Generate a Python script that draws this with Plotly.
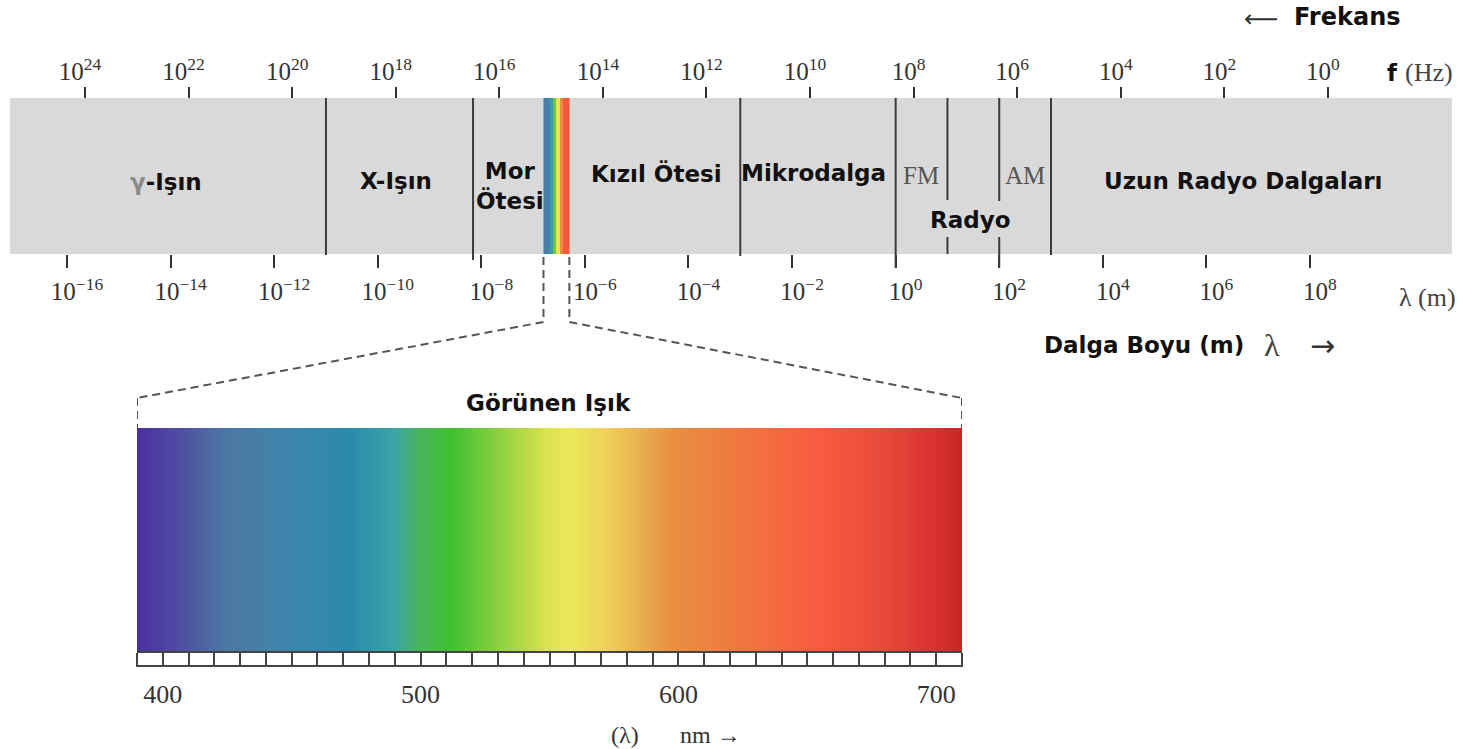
import numpy as np
import plotly.graph_objects as go

# ---------------- data ----------------
# wavelength axis (log10 of metres) tick exponents
lam_tick_exp = [-16, -14, -12, -10, -8, -6, -4, -2, 0, 2, 4, 6, 8]
# frequency axis (log10 of Hz) tick exponents
freq_tick_exp = [24, 22, 20, 18, 16, 14, 12, 10, 8, 6, 4, 2, 0]

# band limits and region boundaries (log10 wavelength, m)
band_lo, band_hi = -17.1, 10.74
region_bounds = [-11.0, -8.16, -3.0, 0.0, 1.0, 2.0, 3.0]
visible_lo, visible_hi = -6.80, -6.30

region_names = ["<span style='color:#8a8a8a'>γ</span>-Işın", "X-Işın", "Mor<br>Ötesi",
                "Kızıl Ötesi", "Mikrodalga", "FM", "Radyo", "AM", "Uzun Radyo Dalgaları"]
region_label_x = [-14.09, -9.65, -7.45, -4.61, -1.58, 0.49, 1.44, 2.50, 6.71]

# visible light (nm)
nm_lo, nm_hi = 390, 710
nm_ticks = list(range(390, 711, 10))
nm_labels = [400, 500, 600, 700]
# small rainbow strip in the band (representative wavelengths, nm)
strip_nm = [430, 445, 485, 522, 562, 600, 660, 665]

# colour stops of the visible spectrum (nm, colour)
spec_nm = [390, 405, 425, 450, 472, 490, 500, 512, 530, 548, 558, 572, 585, 597, 625, 655, 680, 700, 710]
spec_col = ["#4a2f9f", "#4f4aa2", "#4d78a3", "#3d85ab", "#2b8aab", "#3aa5a6", "#4ab45a", "#3fc030",
            "#8ccf40", "#d8e24e", "#ece85a", "#eed058", "#e8b050", "#e89040", "#f07640", "#f95a40",
            "#e84a3a", "#d83030", "#c82525"]

# ---------------- layout helpers ----------------
W, H = 1463, 749
LAM_RANGE = [-17.294, 10.955]
FREQ_RANGE = [25.641, -2.607]
NM_DOMAIN = [137 / W, 962 / W]

def lam_paper(v):
    return (v - LAM_RANGE[0]) / (LAM_RANGE[1] - LAM_RANGE[0])

def nm_paper(v):
    return NM_DOMAIN[0] + (v - nm_lo) / (nm_hi - nm_lo) * (NM_DOMAIN[1] - NM_DOMAIN[0])

def ypaper(py):
    return 1 - py / H

BAND_TOP, BAND_BOT = 98, 254
SPEC_TOP, SPEC_BOT = 428, 652
RULER_BOT = 666

colorscale = [[(n - nm_lo) / (nm_hi - nm_lo), c] for n, c in zip(spec_nm, spec_col)]

fig = go.Figure()

# main gradient of visible light
edges = np.arange(nm_lo, nm_hi + 1, 1)
centers = (edges[:-1] + edges[1:]) / 2
fig.add_trace(go.Heatmap(x=edges, y=[SPEC_TOP, SPEC_BOT], z=[centers], xaxis="x2", yaxis="y",
                         colorscale=colorscale, zmin=nm_lo, zmax=nm_hi, showscale=False,
                         hoverinfo="skip"))

# rainbow strip in the band
strip_edges = np.linspace(visible_lo, visible_hi, len(strip_nm) + 1)
fig.add_trace(go.Heatmap(x=strip_edges, y=[BAND_TOP, BAND_BOT], z=[strip_nm], xaxis="x", yaxis="y",
                         colorscale=colorscale, zmin=nm_lo, zmax=nm_hi, showscale=False,
                         hoverinfo="skip"))

# invisible trace to activate the frequency axis
fig.add_trace(go.Scatter(x=[freq_tick_exp[0]], y=[0], xaxis="x3", yaxis="y", mode="markers",
                         marker=dict(opacity=0), hoverinfo="skip", showlegend=False))

shapes = []
# grey band
shapes.append(dict(type="rect", xref="x", yref="y", x0=band_lo, x1=band_hi, y0=BAND_TOP, y1=BAND_BOT,
                   fillcolor="#d9d9d9", line=dict(width=0), layer="below"))
# dividers (segments in pixel-rows)
div_segments = {
    -11.0: [(BAND_TOP, BAND_BOT + 1)],
    -8.16: [(BAND_TOP, 260)],
    -3.0: [(BAND_TOP, 256)],
    0.0: [(BAND_TOP, 268)],
    1.0: [(BAND_TOP, 200), (237, BAND_BOT)],
    2.0: [(BAND_TOP, 201), (237, 268)],
    3.0: [(BAND_TOP, BAND_BOT + 1)],
}
for b in region_bounds:
    for y0, y1 in div_segments[b]:
        shapes.append(dict(type="line", xref="x", yref="y", x0=b, x1=b, y0=y0, y1=y1,
                           line=dict(color="#3a3a3a", width=2)))

# dashed connectors
dash = dict(color="#555555", width=2, dash="8px,5px")
for lam_v, nm_v in [(visible_lo, nm_lo), (visible_hi, nm_hi)]:
    shapes.append(dict(type="line", xref="x", yref="y", x0=lam_v, x1=lam_v, y0=BAND_BOT + 3, y1=322, line=dash))
    shapes.append(dict(type="line", xref="paper", yref="y", x0=lam_paper(lam_v), x1=nm_paper(nm_v),
                       y0=322, y1=398, line=dash))
    shapes.append(dict(type="line", xref="x2", yref="y", x0=nm_v, x1=nm_v, y0=398, y1=SPEC_TOP, line=dash))

# ruler bottom line
shapes.append(dict(type="line", xref="x2", yref="y", x0=nm_lo, x1=nm_hi, y0=RULER_BOT, y1=RULER_BOT,
                   line=dict(color="#444444", width=2)))

def pow_label(e):
    s = str(e).replace("-", "−")
    return f"10<sup>{s}</sup>"

serif = "Liberation Serif, Times New Roman, serif"
sans_b = "DejaVu Sans"

annotations = []
band_label_y = [182, 181, 186, 173, 173, 175, 220, 175, 181]
for name, xv, yv in zip(region_names, region_label_x, band_label_y):
    if name in ("FM", "AM"):
        font = dict(family=serif, size=25, color="#555555")
    else:
        font = dict(family=sans_b, size=23, color="#111111", weight="bold")
    annotations.append(dict(x=xv, y=yv, xref="x", yref="y", text=name, showarrow=False,
                            xanchor="center", yanchor="middle", font=font))

def add_text(text, px, py, font, xanchor="center"):
    annotations.append(dict(x=px / W, y=ypaper(py), xref="paper", yref="paper", text=text,
                            showarrow=False, xanchor=xanchor, yanchor="middle", font=font))

add_text("⟵", 1261, 19, dict(family="DejaVu Sans", size=24, color="#333"))
add_text("Frekans", 1347, 17, dict(family=sans_b, size=24, color="#111", weight="bold"))
add_text("f", 1392, 73, dict(family=sans_b, size=23, color="#111", weight="bold"))
add_text("(Hz)", 1429, 72, dict(family=serif, size=26, color="#444"))
add_text("λ (m)", 1427, 297, dict(family=serif, size=26, color="#444"))
add_text("Dalga Boyu (m)", 1144, 345, dict(family=sans_b, size=23, color="#111", weight="bold"))
add_text("λ", 1272, 345, dict(family=serif, size=32, color="#444"))
add_text("→", 1322, 345, dict(family="DejaVu Sans", size=30, color="#333"))
add_text("Görünen Işık", 548, 403, dict(family=sans_b, size=23, color="#111", weight="bold"))
add_text("(λ)", 625, 735, dict(family=serif, size=24, color="#333"))
add_text("nm →", 710, 735, dict(family=serif, size=24, color="#333"))

tick_font = dict(family=serif, size=25, color="#333333")

fig.update_layout(
    width=W, height=H, margin=dict(l=0, r=0, t=0, b=0),
    paper_bgcolor="white", plot_bgcolor="rgba(0,0,0,0)", showlegend=False,
    shapes=shapes, annotations=annotations,
    xaxis=dict(range=LAM_RANGE, domain=[0, 1], anchor="free", position=ypaper(BAND_BOT), side="bottom",
               tickmode="array", tickvals=lam_tick_exp, ticktext=[pow_label(e) for e in lam_tick_exp],
               ticks="outside", ticklen=13, tickwidth=2, tickcolor="#333333", tickfont=tick_font,
               ticklabelshift=10, ticklabelstandoff=2,
               showgrid=False, zeroline=False, showline=False, fixedrange=True),
    xaxis3=dict(range=FREQ_RANGE, overlaying="x", anchor="free", position=ypaper(BAND_TOP), side="top",
                tickmode="array", tickvals=freq_tick_exp, ticktext=[pow_label(e) for e in freq_tick_exp],
                ticks="outside", ticklen=11, tickwidth=2, tickcolor="#333333", tickfont=tick_font,
                ticklabelshift=5, ticklabelstandoff=-3,
                showgrid=False, zeroline=False, showline=False, fixedrange=True),
    xaxis2=dict(range=[nm_lo, nm_hi], domain=NM_DOMAIN, anchor="free", position=ypaper(SPEC_BOT), side="bottom",
                tickmode="array", tickvals=nm_ticks,
                ticktext=[str(t) if t in nm_labels else "" for t in nm_ticks],
                ticks="outside", ticklen=RULER_BOT - SPEC_BOT, tickwidth=2, tickcolor="#444444",
                tickfont=dict(family=serif, size=26, color="#333333"), ticklabelstandoff=5,
                showline=True, linewidth=2, linecolor="#444444",
                showgrid=False, zeroline=False, fixedrange=True),
    yaxis=dict(range=[H, 0], domain=[0, 1], visible=False, fixedrange=True),
)

fig.write_html("out.html", config={"displayModeBar": False},
               post_script="document.body.style.margin='0';document.body.style.overflow='hidden';")
